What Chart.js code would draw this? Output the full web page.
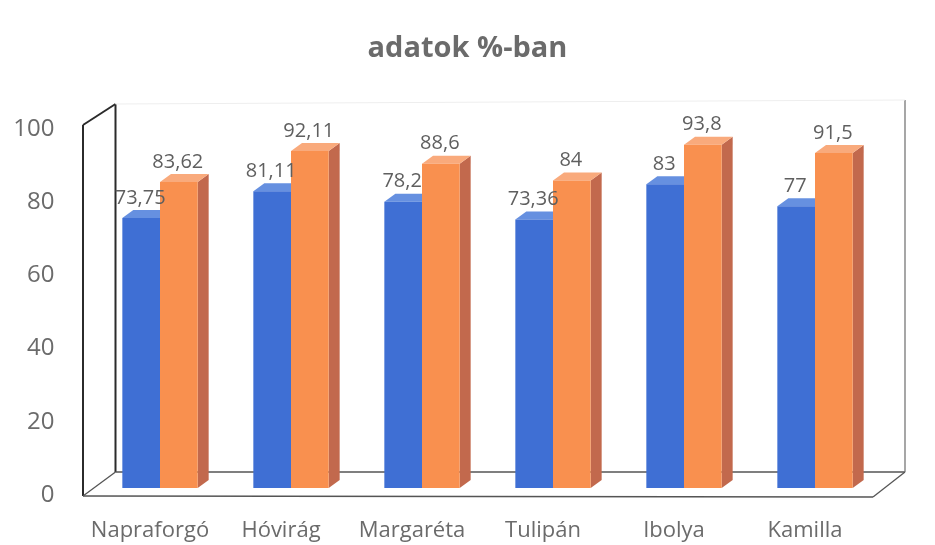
<!DOCTYPE html>
<html>
<head>
<meta charset="utf-8">
<script src="https://cdn.jsdelivr.net/npm/chart.js@4/dist/chart.umd.min.js"></script>
<style>
  html, body { margin: 0; padding: 0; background: #fff; }
  #wrap { width: 935px; height: 545px; }
</style>
</head>
<body>
<div id="wrap"><canvas id="chart"></canvas></div>
<script>
// kategóriák és adatsorok
const categories = ['Napraforgó', 'Hóvirág', 'Margaréta', 'Tulipán', 'Ibolya', 'Kamilla'];
const seriesBlue = [73.75, 81.11, 78.2, 73.36, 83, 77];
const seriesOrange = [83.62, 92.11, 88.6, 84, 93.8, 91.5];
const yMin = 0;
const yMax = 100;
const yStep = 20;

// színek (elő-, felső- és oldallap)
const blueFaces = { front: '#3f6fd4', top: '#6690e0', side: '#2d56a6' };
const orangeFaces = { front: '#f9904f', top: '#f9aa7c', side: '#c2694d' };
const faces = [blueFaces, orangeFaces];

const FONT = 'Open Sans';
const DEPTH_X = 11;
const DEPTH_Y = 8;

// szám formázása magyar tizedesvesszővel
function fmt(v) {
    return String(v).replace('.', ',');
}

function line(ctx, x1, y1, x2, y2) {
    ctx.beginPath();
    ctx.moveTo(x1, y1);
    ctx.lineTo(x2, y2);
    ctx.stroke();
}

// 3D hatás: falak, padló, oszlopok teteje és oldala
const threeDPlugin = {
    id: 'threeD',
    beforeDatasetsDraw(chart) {
        const ctx = chart.ctx;
        const a = chart.chartArea;
        const fx = a.left - 11.5;   // bal első él
        const bx = a.left + 21;     // bal hátsó él
        const fy = a.bottom + 8;    // padló első éle
        const by = a.bottom - 16;   // padló hátsó éle
        ctx.save();

        // bal fal
        ctx.strokeStyle = '#2b2b2b';
        ctx.lineWidth = 2;
        line(ctx, fx, fy, fx, a.top + 3);
        line(ctx, fx, a.top + 3, bx, a.top - 18);
        line(ctx, bx, a.top - 18, bx, by);

        // padló
        ctx.strokeStyle = '#555555';
        ctx.lineWidth = 1.3;
        line(ctx, fx, fy, bx, by);
        line(ctx, bx, by, a.right + 24.5, by);
        line(ctx, fx, fy, a.right - 7.5, fy + 1);
        line(ctx, a.right - 7.5, fy + 1, a.right + 24.5, by);

        // jobb oldali vonal
        ctx.strokeStyle = '#777777';
        line(ctx, a.right + 24.5, a.top - 22, a.right + 24.5, by);

        // hátsó fal halvány felső éle
        ctx.strokeStyle = '#eeeeee';
        ctx.lineWidth = 1;
        line(ctx, bx, a.top - 18, a.right + 24.5, a.top - 22);

        // oszlopok teteje és oldala
        chart.data.datasets.forEach((ds, di) => {
            const meta = chart.getDatasetMeta(di);
            meta.data.forEach(bar => {
                const p = bar.getProps(['x', 'y', 'base', 'width'], true);
                const l = p.x - p.width / 2;
                const r = p.x + p.width / 2;
                // oldallap
                ctx.fillStyle = faces[di].side;
                ctx.beginPath();
                ctx.moveTo(r, p.y);
                ctx.lineTo(r + DEPTH_X, p.y - DEPTH_Y);
                ctx.lineTo(r + DEPTH_X, p.base - DEPTH_Y);
                ctx.lineTo(r, p.base);
                ctx.closePath();
                ctx.fill();
                // tető
                ctx.fillStyle = faces[di].top;
                ctx.beginPath();
                ctx.moveTo(l, p.y);
                ctx.lineTo(l + DEPTH_X, p.y - DEPTH_Y);
                ctx.lineTo(r + DEPTH_X, p.y - DEPTH_Y);
                ctx.lineTo(r, p.y);
                ctx.closePath();
                ctx.fill();
            });
        });
        ctx.restore();
    },
    afterDatasetsDraw(chart) {
        // adatfeliratok
        const ctx = chart.ctx;
        ctx.save();
        ctx.font = '20px "' + FONT + '"';
        ctx.fillStyle = '#5f5f5f';
        ctx.textAlign = 'center';
        ctx.textBaseline = 'bottom';
        chart.data.datasets.forEach((ds, di) => {
            const meta = chart.getDatasetMeta(di);
            meta.data.forEach((bar, i) => {
                const p = bar.getProps(['x', 'y'], true);
                ctx.fillText(fmt(ds.data[i]), p.x - 1, p.y - DEPTH_Y - 2);
            });
        });
        ctx.restore();
    }
};

new Chart(document.getElementById('chart'), {
    type: 'bar',
    data: {
        labels: categories,
        datasets: [
            {
                label: 'A',
                data: seriesBlue,
                backgroundColor: blueFaces.front,
                categoryPercentage: 0.575,
                barPercentage: 1
            },
            {
                label: 'B',
                data: seriesOrange,
                backgroundColor: orangeFaces.front,
                categoryPercentage: 0.575,
                barPercentage: 1
            }
        ]
    },
    options: {
        responsive: true,
        maintainAspectRatio: false,
        animation: false,
        layout: { padding: 0 },
        plugins: {
            legend: { display: false },
            tooltip: { enabled: false },
            title: {
                display: true,
                text: 'adatok %-ban',
                color: '#6b6b6b',
                font: { family: FONT, size: 29, weight: 'bold' },
                padding: { top: 31, bottom: 56.2 }
            }
        },
        scales: {
            x: {
                grid: { display: false, drawTicks: false },
                border: { display: false },
                ticks: {
                    color: '#6b6b6b',
                    font: { family: FONT, size: 22 },
                    padding: 30,
                    labelOffset: -10,
                    maxRotation: 0
                },
                afterFit(scale) { scale.height = 57; }
            },
            y: {
                min: yMin,
                max: yMax,
                grid: { display: false, drawTicks: false },
                border: { display: false },
                ticks: {
                    stepSize: yStep,
                    color: '#6b6b6b',
                    font: { family: FONT, size: 24 },
                    padding: 40,
                    labelOffset: 7
                },
                afterFit(scale) { scale.width = 94.5; }
            },
            // üres jobb oldali sáv, hogy a cím középre kerüljön
            yRight: {
                position: 'right',
                display: true,
                grid: { display: false, drawTicks: false },
                border: { display: false },
                ticks: { display: false },
                afterFit(scale) { scale.width = 54.5; }
            }
        }
    },
    plugins: [threeDPlugin]
});
</script>
</body>
</html>
